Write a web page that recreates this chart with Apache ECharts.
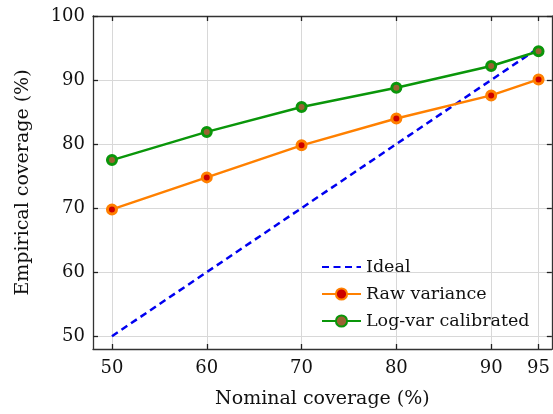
<!DOCTYPE html>
<html><head><meta charset="utf-8">
<script src="https://cdn.jsdelivr.net/npm/echarts@6/dist/echarts.min.js"></script>
<style>html,body{margin:0;padding:0;background:#fff}#c{width:553px;height:414px}</style>
</head><body><div id="c"></div>
<script>
const nominal = [50, 60, 70, 80, 90, 95];
const ideal = [50, 60, 70, 80, 90, 95];
const rawVariance = [69.8, 74.8, 79.8, 84.0, 87.6, 90.1];
const logVarCalibrated = [77.5, 81.9, 85.8, 88.8, 92.2, 94.5];
const xTicks = [50, 60, 70, 80, 90, 95];
const yTicks = [50, 60, 70, 80, 90, 100];

const FONT = 'DejaVu Serif';
const pairs = a => nominal.map((x, i) => [x, a[i]]);
const axisCommon = {
  axisLine: {lineStyle: {color: '#333', width: 1.3}},
  axisTick: {inside: true, length: 5, lineStyle: {color: '#222', width: 1.3}},
};
const chart = echarts.init(document.getElementById('c'), null, {renderer: 'canvas'});
chart.setOption({
  animation: false,
  textStyle: {fontFamily: FONT},
  grid: {left: 93, top: 16, right: 1, bottom: 64, containLabel: false},
  xAxis: [
    Object.assign({type: 'value', min: 48, max: 96.4, position: 'bottom',
      name: 'Nominal coverage (%)', nameLocation: 'middle', nameGap: 41,
      nameTextStyle: {fontFamily: FONT, fontSize: 19, color: '#111'},
      axisLabel: {customValues: xTicks, fontFamily: FONT, fontSize: 18, color: '#111', margin: 10},
      splitLine: {show: true, lineStyle: {color: '#d8d8d8', width: 1}}}, axisCommon,
      {axisTick: Object.assign({}, axisCommon.axisTick, {customValues: xTicks})}),
    Object.assign({type: 'value', min: 48, max: 96.4, position: 'top',
      axisLabel: {show: false}, splitLine: {show: false}}, axisCommon,
      {axisTick: Object.assign({}, axisCommon.axisTick, {customValues: xTicks})})
  ],
  yAxis: [
    Object.assign({type: 'value', min: 48, max: 100, position: 'left',
      name: 'Empirical coverage (%)', nameLocation: 'middle', nameGap: 60,
      nameTextStyle: {fontFamily: FONT, fontSize: 19, color: '#111'},
      axisLabel: {customValues: yTicks, fontFamily: FONT, fontSize: 18, color: '#111', margin: 8},
      splitLine: {show: true, lineStyle: {color: '#d8d8d8', width: 1}}}, axisCommon,
      {axisTick: Object.assign({}, axisCommon.axisTick, {customValues: yTicks})}),
    Object.assign({type: 'value', min: 48, max: 100, position: 'right',
      axisLabel: {show: false}, splitLine: {show: false}}, axisCommon,
      {axisTick: Object.assign({}, axisCommon.axisTick, {customValues: yTicks})})
  ],
  legend: {
    left: 321, top: 258, padding: 0, orient: 'vertical', itemWidth: 39, itemHeight: 14, itemGap: 9,
    textStyle: {fontFamily: FONT, fontSize: 17.5, color: '#111'},
    data: [{name: 'Ideal', itemStyle: {opacity: 0}}, 'Raw variance', 'Log-var calibrated']
  },
  series: [
    {name: 'Ideal', type: 'line', data: pairs(ideal), symbol: 'none',
      lineStyle: {color: '#0000f0', width: 2.5, type: [7, 4.5]}, itemStyle: {color: '#0000f0'}, z: 3},
    {name: 'Raw variance', type: 'line', data: pairs(rawVariance), symbol: 'circle', symbolSize: 9,
      lineStyle: {color: '#ff8000', width: 2.5}, itemStyle: {color: '#cc0000', borderColor: '#ff8000', borderWidth: 3}, z: 4},
    {name: 'Log-var calibrated', type: 'line', data: pairs(logVarCalibrated), symbol: 'circle', symbolSize: 9,
      lineStyle: {color: '#0a960a', width: 2.5}, itemStyle: {color: '#9a6232', borderColor: '#0a960a', borderWidth: 3}, z: 5}
  ]
});
</script></body></html>
